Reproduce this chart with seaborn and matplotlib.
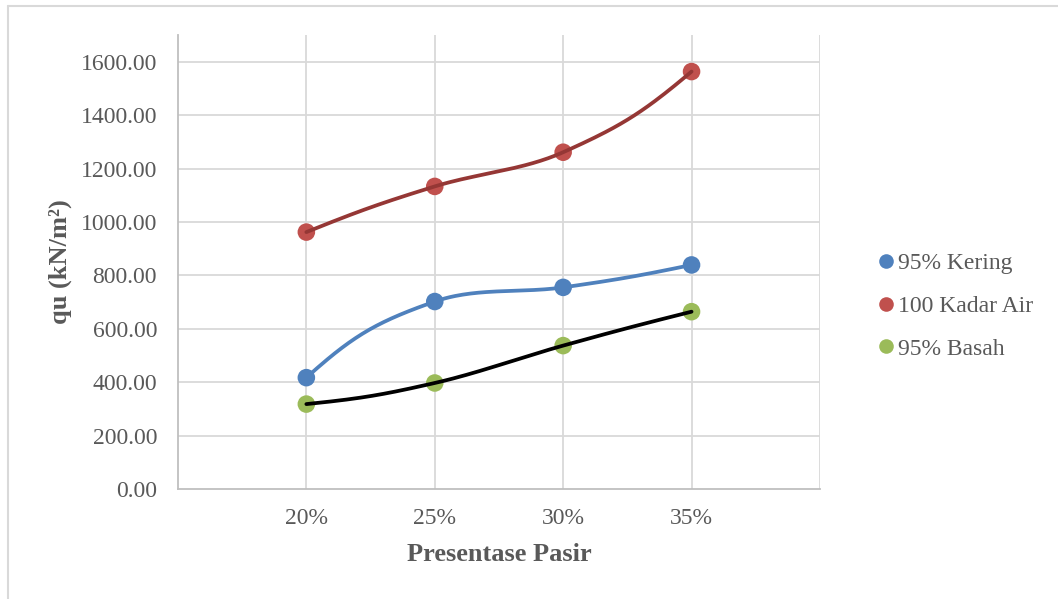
import numpy as np
import pandas as pd
import seaborn as sns
import matplotlib.pyplot as plt
from matplotlib.lines import Line2D

# Data
categories = ["20%", "25%", "30%", "35%"]
kering = [417, 702, 755, 839]
kadar_air = [962, 1133, 1261, 1563]
basah = [318, 397, 537, 664]
series_names = ["95% Kering", "100 Kadar Air", "95% Basah"]
y_ticks = [0, 200, 400, 600, 800, 1000, 1200, 1400, 1600]

sns.set_theme(style="white")
plt.rcParams["font.family"] = ["Liberation Serif", "DejaVu Serif"]

marker_colors = ["#4F81BD", "#C0504D", "#9BBB59"]
line_colors = ["#4F81BD", "#953735", "#000000"]
text_color = "#595959"


def smooth_curve(ax, x, y, inner=1 / 3, outer=0.42, steps=50):
    """Bezier smoothing computed in screen space.

    Interior tangents follow the neighbouring points; handle length is a
    fraction of the segment chord.  End handles mirror the adjacent handle
    across the chord's perpendicular bisector.
    """
    pts = ax.transData.transform(np.column_stack([x, y]).astype(float))
    n = len(pts)
    dirs = [None] * n
    for i in range(1, n - 1):
        d = pts[i + 1] - pts[i - 1]
        dirs[i] = d / np.hypot(*d)
    t = np.linspace(0, 1, steps)[:, None]
    out = []
    for i in range(n - 1):
        p1, p2 = pts[i], pts[i + 1]
        chord = p2 - p1
        L = np.hypot(*chord)
        u = chord / L
        mid = (p1 + p2) / 2
        end_seg = i == 0 or i == n - 2
        k = outer if end_seg else inner
        c1 = p1 + k * L * dirs[i] if dirs[i] is not None else None
        c2 = p2 - k * L * dirs[i + 1] if dirs[i + 1] is not None else None
        if c1 is None and c2 is not None:
            v = c2 - mid
            c1 = mid + v - 2 * np.dot(v, u) * u
        if c2 is None and c1 is not None:
            v = c1 - mid
            c2 = mid + v - 2 * np.dot(v, u) * u
        if c1 is None:
            c1, c2 = p1 + chord / 3, p2 - chord / 3
        seg = ((1 - t) ** 3) * p1 + 3 * ((1 - t) ** 2) * t * c1 + 3 * (1 - t) * t ** 2 * c2 + t ** 3 * p2
        out.append(seg if i == 0 else seg[1:])
    arr = ax.transData.inverted().transform(np.vstack(out))
    return arr[:, 0], arr[:, 1]


fig = plt.figure(figsize=(10.58, 5.99), dpi=100)
ax = fig.add_axes([0.1682, 0.1836, 0.775 - 0.1682, 0.9416 - 0.1836])
ax.set_xlim(0, 5)
ax.set_ylim(0, 1700)

xpos = np.arange(1, len(categories) + 1)
frames = []
for name, vals in zip(series_names, [kering, kadar_air, basah]):
    frames.append(pd.DataFrame({"pos": xpos, "qu": vals, "series": name}))
df = pd.concat(frames, ignore_index=True)

sns.scatterplot(data=df, x="pos", y="qu", hue="series", hue_order=series_names,
                palette=marker_colors, s=160, edgecolor="none", legend=False,
                ax=ax, zorder=2)
for coll in ax.collections:
    coll.set_zorder(2)
ax.set_xlim(0, 5)
ax.set_ylim(0, 1700)

for name, lc in zip(series_names, line_colors):
    sub = df[df["series"] == name]
    sx, sy = smooth_curve(ax, sub["pos"].values, sub["qu"].values)
    ax.plot(sx, sy, color=lc, lw=2.7, solid_capstyle="round", zorder=3)

ax.set_xlim(0, 5)
ax.set_ylim(0, 1700)
ax.set_xticks(xpos)
ax.set_xticklabels(categories)
ax.set_yticks(y_ticks)
ax.set_yticklabels([f"{v:.2f}" for v in y_ticks])

# grid
ax.set_axisbelow(True)
for v in y_ticks[1:]:
    ax.axhline(v, color="#D9D9D9", lw=1.3, zorder=0)
for v in range(1, 6):
    ax.axvline(v, color="#D9D9D9", lw=1.3, zorder=0)

for side in ["top", "right"]:
    ax.spines[side].set_visible(False)
for side in ["left", "bottom"]:
    ax.spines[side].set_color("#BFBFBF")
    ax.spines[side].set_linewidth(1.3)

ax.tick_params(axis="both", length=0, labelsize=17, colors=text_color)
ax.tick_params(axis="y", pad=15)
ax.tick_params(axis="x", pad=14)

ax.set_xlabel("Presentase Pasir", fontsize=19, fontweight="bold", color=text_color, labelpad=10)
ax.set_ylabel("qu (kN/m²)", fontsize=19, fontweight="bold", color=text_color, labelpad=6)

handles = [Line2D([0], [0], marker="o", linestyle="none", markerfacecolor=c,
                  markeredgecolor="none", markersize=10.5) for c in marker_colors]
leg = fig.legend(handles, series_names, loc="center left", bbox_to_anchor=(0.8295, 0.489),
                 frameon=False, fontsize=17, handlelength=0.7, handletextpad=0.15,
                 labelspacing=0.9, borderaxespad=0, borderpad=0)
for t in leg.get_texts():
    t.set_color(text_color)

# outer chart frame (top and left edges)
fig.add_artist(Line2D([8 / 1058, 1.0], [1 - 6 / 599, 1 - 6 / 599], transform=fig.transFigure,
                      color="#D9D9D9", lw=1.5))
fig.add_artist(Line2D([8 / 1058, 8 / 1058], [0.0, 1 - 6 / 599], transform=fig.transFigure,
                      color="#D9D9D9", lw=1.5))

fig.savefig("out.png", dpi=100)
